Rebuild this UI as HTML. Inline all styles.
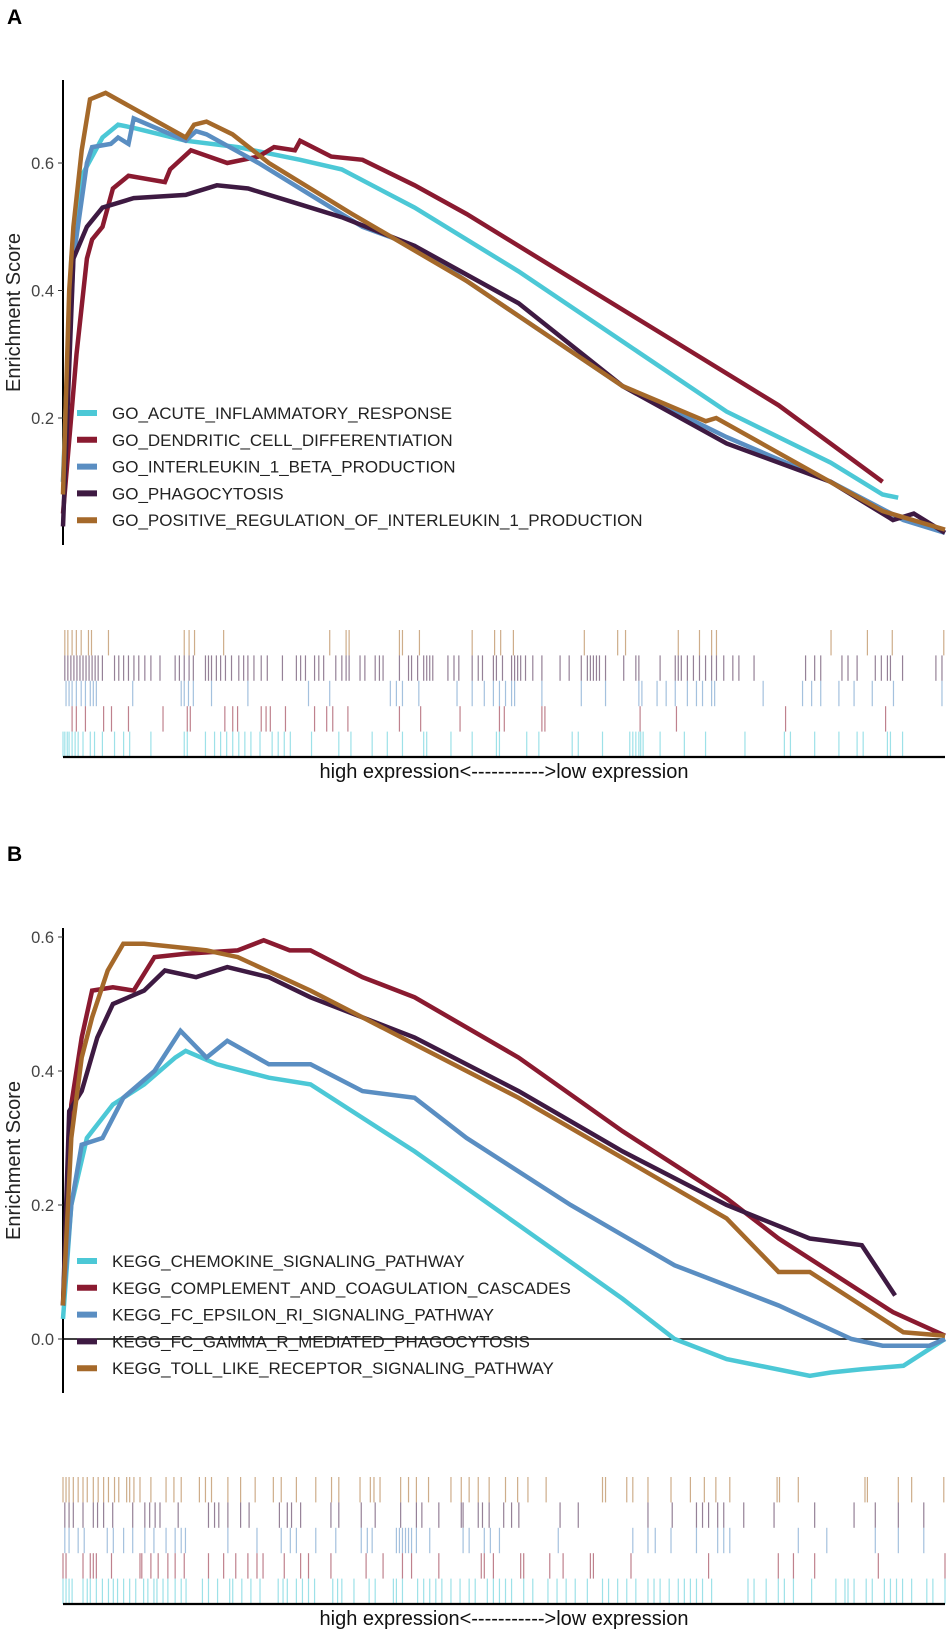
<!DOCTYPE html>
<html><head><meta charset="utf-8"><style>
body{margin:0;background:#fff}
svg{display:block}
text{font-family:"Liberation Sans",Arial,sans-serif}
</style></head><body>
<svg id="chart" width="950" height="1632" xmlns="http://www.w3.org/2000/svg">
<text x="7" y="24" font-size="21" font-weight="bold">A</text>
<text x="7" y="861" font-size="21" font-weight="bold">B</text>
<g id="pa"></g>
<g id="pb"></g>
</svg>
<script>
const NS='http://www.w3.org/2000/svg';
const colors=['#4cc8d6','#8a1a30','#5a8ec2','#3e1a42','#a5692a'];
const namesA=['GO_ACUTE_INFLAMMATORY_RESPONSE','GO_DENDRITIC_CELL_DIFFERENTIATION','GO_INTERLEUKIN_1_BETA_PRODUCTION','GO_PHAGOCYTOSIS','GO_POSITIVE_REGULATION_OF_INTERLEUKIN_1_PRODUCTION'];
const namesB=['KEGG_CHEMOKINE_SIGNALING_PATHWAY','KEGG_COMPLEMENT_AND_COAGULATION_CASCADES','KEGG_FC_EPSILON_RI_SIGNALING_PATHWAY','KEGG_FC_GAMMA_R_MEDIATED_PHAGOCYTOSIS','KEGG_TOLL_LIKE_RECEPTOR_SIGNALING_PATHWAY'];
const ticksA=[0.2,0.4,0.6];
const ticksB=[0.0,0.2,0.4,0.6];
// Panel A curves: rank positions (domain 62..910) and ES values
const aCyanX=[62,70,80,100,115,130,180,230,290,330,400,500,600,700,800,850,865];
const aCyanY=[0.1,0.45,0.58,0.64,0.66,0.655,0.635,0.625,0.605,0.59,0.53,0.43,0.32,0.21,0.13,0.08,0.075];
const aRedX=[62,75,85,90,100,110,125,160,165,185,220,250,265,285,290,320,350,400,450,550,650,750,850];
const aRedY=[0.05,0.3,0.45,0.48,0.5,0.56,0.58,0.57,0.59,0.62,0.6,0.61,0.625,0.62,0.635,0.61,0.605,0.565,0.52,0.42,0.32,0.22,0.1];
const aBlueX=[62,72,85,90,108,115,125,130,180,190,200,250,300,350,400,500,600,700,800,870,910];
const aBlueY=[0.1,0.45,0.6,0.625,0.63,0.64,0.63,0.67,0.635,0.65,0.645,0.6,0.55,0.5,0.47,0.36,0.25,0.17,0.1,0.04,0.02];
const aPurpX=[62,72,85,100,130,180,210,240,280,330,400,500,600,700,800,860,880,910];
const aPurpY=[0.03,0.45,0.5,0.53,0.545,0.55,0.565,0.56,0.54,0.515,0.47,0.38,0.25,0.16,0.1,0.04,0.05,0.02];
const aBrownX=[62,68,72,80,88,103,180,188,200,225,260,340,450,600,680,690,760,850,910];
const aBrownY=[0.08,0.4,0.5,0.62,0.70,0.71,0.64,0.66,0.665,0.645,0.6,0.52,0.415,0.25,0.195,0.2,0.136,0.054,0.025];
// Panel B curves
const bCyanX=[62,70,85,110,140,170,180,210,260,300,350,400,500,600,650,700,780,800,830,870,900,910];
const bCyanY=[0.03,0.2,0.3,0.35,0.38,0.42,0.43,0.41,0.39,0.38,0.33,0.28,0.17,0.06,0.0,-0.03,-0.055,-0.05,-0.045,-0.04,-0.01,0.0];
const bRedX=[62,70,80,90,110,130,150,180,230,255,280,300,350,400,500,600,700,750,800,860,910];
const bRedY=[0.05,0.35,0.45,0.52,0.525,0.52,0.57,0.575,0.58,0.595,0.58,0.58,0.54,0.51,0.42,0.31,0.21,0.15,0.1,0.04,0.005];
const bBlueX=[62,70,80,100,120,150,175,200,220,260,300,350,400,450,550,650,750,820,850,895,910];
const bBlueY=[0.05,0.2,0.29,0.3,0.36,0.4,0.46,0.42,0.445,0.41,0.41,0.37,0.36,0.3,0.2,0.11,0.05,0.0,-0.01,-0.01,0.0];
const bPurpX=[62,68,80,95,110,140,160,190,220,260,300,400,500,600,700,780,830,862];
const bPurpY=[0.05,0.34,0.37,0.45,0.5,0.52,0.55,0.54,0.555,0.54,0.51,0.45,0.37,0.28,0.2,0.15,0.14,0.065];
const bBrownX=[62,70,80,90,105,120,140,170,200,230,300,400,500,600,700,750,780,830,870,910];
const bBrownY=[0.05,0.3,0.42,0.48,0.55,0.59,0.59,0.585,0.58,0.57,0.52,0.44,0.36,0.27,0.18,0.1,0.1,0.05,0.01,0.005];
// Rug hit ranks (rank domain 105..1560)
const hitsABrown=[108,113,120,127,135,147,152,180,305,313,322,370,545,572,577,660,665,693,780,817,827,848,965,1020,1033,1120,1155,1175,1183,1372,1432,1473,1558];
const hitsAPurp=[108,113,118,123,128,133,138,143,148,153,158,163,170,190,197,205,213,222,230,240,250,265,290,297,305,313,320,340,345,350,358,365,373,383,395,403,410,420,432,442,467,490,497,505,520,527,535,555,565,572,577,595,603,620,627,633,660,675,680,690,700,705,710,715,740,750,758,780,790,797,815,820,830,845,850,855,860,868,880,895,925,940,960,970,975,980,985,990,1000,1030,1050,1055,1090,1115,1120,1125,1135,1145,1155,1165,1175,1183,1195,1210,1220,1245,1330,1345,1355,1390,1400,1415,1445,1455,1465,1470,1490,1545,1555];
const hitsABlue=[110,115,120,127,135,142,150,155,160,220,300,305,312,320,350,410,510,545,645,655,665,692,755,780,800,815,825,835,845,850,895,960,1000,1055,1060,1085,1100,1115,1135,1150,1160,1175,1180,1260,1325,1340,1355,1385,1410,1440,1475,1555];
const hitsARed=[120,127,142,172,185,213,270,310,315,372,385,393,432,440,447,472,520,540,550,575,660,695,760,825,833,895,900,1057,1117,1297,1462];
const hitsACyan=[105,108,112,115,120,125,130,138,150,157,170,190,205,215,250,305,310,340,355,365,375,385,395,405,415,430,450,460,470,480,515,560,580,615,640,665,700,705,745,780,820,825,870,890,945,955,995,1040,1045,1050,1055,1058,1062,1090,1130,1165,1230,1295,1305,1345,1385,1415,1425,1465,1470,1490];
const hitsBBrown=[105,110,115,122,130,138,145,155,163,172,180,190,197,210,215,222,232,250,275,288,300,330,340,350,377,398,422,452,465,490,522,548,560,595,612,618,628,662,675,688,708,745,762,775,790,808,835,855,872,902,995,1000,1035,1045,1070,1108,1140,1163,1182,1205,1283,1287,1318,1428,1432,1483,1505,1558];
const hitsBPurp=[108,115,122,138,155,162,172,187,220,240,248,257,265,295,345,355,362,377,398,412,462,475,482,497,547,560,597,620,662,688,697,725,762,765,790,797,808,832,845,857,925,955,1070,1110,1150,1160,1170,1185,1195,1228,1278,1345,1410,1445,1483,1525];
const hitsBBlue=[108,115,130,140,178,188,205,220,240,255,275,290,300,307,377,425,465,480,490,522,555,597,607,615,655,660,665,670,675,680,688,710,765,775,800,810,825,922,1045,1070,1082,1108,1150,1185,1195,1205,1318,1365,1445,1483,1525];
const hitsBRed=[105,110,138,150,155,160,185,232,235,250,262,278,290,305,345,370,390,410,425,435,470,497,510,547,605,633,665,680,725,795,800,815,860,865,908,930,975,980,1042,1170,1285,1310,1345,1450,1560];
const hitsBCyan=[105,110,115,120,138,145,150,160,170,180,188,195,205,215,225,238,245,255,260,270,278,290,300,308,335,345,360,380,385,400,415,430,460,468,475,490,500,510,520,550,558,565,585,610,620,650,655,665,690,700,710,720,730,745,760,775,785,805,815,825,835,845,865,880,905,920,935,950,970,995,1005,1020,1035,1050,1070,1080,1090,1105,1120,1130,1140,1150,1160,1175,1235,1245,1265,1285,1295,1310,1340,1380,1395,1400,1410,1430,1440,1460,1470,1480,1490,1505,1530,1540,1560];

function mk(tag,attrs,parent){const e=document.createElementNS(NS,tag);for(const k in attrs)e.setAttribute(k,attrs[k]);parent.appendChild(e);return e;}
function lin(d0,d1,r0,r1){return v=>r0+(v-d0)/(d1-d0)*(r1-r0);}
const L=63,R=945;

function panel(g,cfg){
  const x=lin(62,910,L,R);
  const y=lin(cfg.v0,cfg.v1,cfg.y0,cfg.y1);
  const xr=lin(105,1560,L,R);
  const ax=mk('line',{x1:L,x2:L,y1:cfg.top,y2:cfg.bot,stroke:'#000','stroke-width':2},g);
  
  cfg.ticks.forEach(t=>{
    const tl=mk('line',{x1:58,x2:L,y1:y(t),y2:y(t),stroke:'#333','stroke-width':1},g);
    
    const tx=mk('text',{x:54,y:y(t)+6,'font-size':16.5,fill:'#444','text-anchor':'end'},g);
    tx.textContent=t.toFixed(1);
    
  });
  if(cfg.zero){const z=mk('line',{x1:L,x2:R,y1:y(0),y2:y(0),stroke:'#000','stroke-width':1.5},g);
    }
  const cy=(cfg.top+cfg.bot)/2;
  const yt=mk('text',{x:20,y:cy,'font-size':20,fill:'#222','text-anchor':'middle',transform:`rotate(-90 20 ${cy})`},g);
  yt.textContent='Enrichment Score';
  
  cfg.series.forEach((s,i)=>{
    const pts=s[0].map((v,j)=>x(v).toFixed(1)+','+y(s[1][j]).toFixed(1)).join(' ');
    const p=mk('polyline',{points:pts,fill:'none',stroke:colors[i],'stroke-width':4.5,'stroke-linejoin':'miter'},g);
    
  });
  cfg.names.forEach((n,i)=>{
    const ly=cfg.legY+i*26.8;
    const sw=mk('line',{x1:77,x2:97,y1:ly,y2:ly,stroke:colors[i],'stroke-width':6},g);
    
    const t=mk('text',{x:112,y:ly+6,'font-size':17,fill:'#222'},g);t.textContent=n;
    
  });
  const rowOrder=[4,3,2,1,0];
  rowOrder.forEach((si,r)=>{
    const y0=cfg.rugTop+r*cfg.rowH;
    cfg.hits[si].forEach(h=>{
      const l=mk('line',{x1:xr(h),x2:xr(h),y1:y0,y2:y0+cfg.rowH,stroke:colors[si],'stroke-width':1.2,'stroke-opacity':0.55},g);
      
    });
  });
  const bl=mk('line',{x1:L,x2:R,y1:cfg.rugBot,y2:cfg.rugBot,stroke:'#000','stroke-width':2.2},g);
  
  const xl=mk('text',{x:504,y:cfg.rugBot+21,'font-size':20,fill:'#111','text-anchor':'middle'},g);
  xl.textContent='high expression<----------->low expression';
  
}
panel(document.getElementById('pa'),{v0:0.2,v1:0.6,y0:418,y1:163,top:80,bot:545,ticks:ticksA,zero:false,
  series:[[aCyanX,aCyanY],[aRedX,aRedY],[aBlueX,aBlueY],[aPurpX,aPurpY],[aBrownX,aBrownY]],
  names:namesA,legY:413,hits:[hitsACyan,hitsARed,hitsABlue,hitsAPurp,hitsABrown],rugTop:630,rowH:25.4,rugBot:757});
panel(document.getElementById('pb'),{v0:0,v1:0.6,y0:1339,y1:937,top:928,bot:1393,ticks:ticksB,zero:true,
  series:[[bCyanX,bCyanY],[bRedX,bRedY],[bBlueX,bBlueY],[bPurpX,bPurpY],[bBrownX,bBrownY]],
  names:namesB,legY:1261,hits:[hitsBCyan,hitsBRed,hitsBBlue,hitsBPurp,hitsBBrown],rugTop:1477,rowH:25.4,rugBot:1604});
</script>
</body></html>
